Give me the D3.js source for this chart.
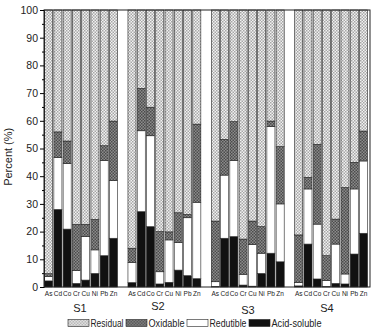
<!DOCTYPE html>
<html>
<head>
<meta charset="utf-8">
<script src="https://cdn.jsdelivr.net/npm/d3@7"></script>
<style>
  body { margin: 0; background: #fff; }
  svg { display: block; font-family: "Liberation Sans", Arial, sans-serif; }
</style>
</head>
<body>
<svg id="chart" width="375" height="336"></svg>
<script>
// sites and metals
var sites = ["S1", "S2", "S3", "S4"];
var metals = ["As", "Cd", "Co", "Cr", "Cu", "Ni", "Pb", "Zn"];
var fractions = ["Acid-soluble", "Redutible", "Oxidable", "Residual"];

// percent of each fraction, 8 metals per site (S1..S4 in order)
var acidSoluble = [
  2.2, 28.0, 20.9, 1.3, 2.5, 4.9, 11.3, 17.6,
  1.6, 27.2, 21.8, 1.1, 1.7, 6.1, 4.1, 3.0,
  0.2, 17.6, 18.2, 0.7, 0.3, 4.9, 12.2, 9.1,
  0.4, 15.5, 2.9, 0.2, 1.3, 1.1, 11.9, 19.4
];
var redutible = [
  1.6, 18.7, 23.7, 4.6, 15.7, 8.5, 34.3, 20.8,
  7.3, 29.2, 32.8, 4.4, 15.3, 9.9, 20.9, 27.6,
  1.7, 22.8, 27.4, 3.9, 15.1, 7.3, 45.7, 20.9,
  1.2, 19.9, 19.8, 2.1, 14.2, 3.6, 23.5, 26.1
];
var oxidable = [
  1.0, 9.3, 8.1, 16.7, 4.4, 11.0, 5.4, 21.5,
  5.1, 15.3, 10.3, 14.5, 2.9, 10.8, 1.2, 28.2,
  21.9, 12.9, 14.1, 12.7, 8.4, 9.6, 2.0, 20.7,
  17.2, 4.2, 28.8, 9.0, 9.0, 31.2, 9.6, 10.8
];
var residual = [
  95.2, 44.0, 47.3, 77.4, 77.4, 75.6, 49.0, 40.1,
  86.0, 28.3, 35.1, 80.0, 80.1, 73.2, 73.8, 41.2,
  76.2, 46.7, 40.3, 82.7, 76.2, 78.2, 40.1, 49.3,
  81.2, 60.4, 48.5, 88.7, 75.5, 64.1, 55.0, 43.7
];
var yTicks = [0, 10, 20, 30, 40, 50, 60, 70, 80, 90, 100];

var rows = [];
sites.forEach(function (s, g) {
  metals.forEach(function (m, i) {
    var k = g * metals.length + i;
    rows.push({
      key: s + m, site: s, metal: m, slot: g * 9 + i,
      "Acid-soluble": acidSoluble[k],
      "Redutible": redutible[k],
      "Oxidable": oxidable[k],
      "Residual": residual[k]
    });
  });
});

var svg = d3.select("#chart");
var margin = { left: 44, right: 5, top: 10, bottom: 49 };
var W = 375, H = 336;

// patterns for the hatched fills
var defs = svg.append("defs");
function checker(id, c1, c2) {
  var p = defs.append("pattern").attr("id", id)
    .attr("width", 3).attr("height", 3)
    .attr("patternUnits", "userSpaceOnUse");
  p.append("rect").attr("width", 3).attr("height", 3).attr("fill", c1);
  p.append("rect").attr("x", 0).attr("y", 0).attr("width", 1.5).attr("height", 1.5).attr("fill", c2);
  p.append("rect").attr("x", 1.5).attr("y", 1.5).attr("width", 1.5).attr("height", 1.5).attr("fill", c2);
}
checker("pRes", "#f2f2f2", "#a6a6a6");
checker("pOxi", "#8c8c8c", "#4c4c4c");

var fills = {
  "Residual": "url(#pRes)",
  "Oxidable": "url(#pOxi)",
  "Redutible": "#ffffff",
  "Acid-soluble": "#111111"
};

var x = d3.scaleLinear().domain([0, 35.2]).range([margin.left, W - margin.right]);
var slotW = x(1) - x(0);
var y = d3.scaleLinear().domain([0, 100]).range([H - margin.bottom, margin.top]);

var stack = d3.stack().keys(fractions);
var layers = stack(rows);

svg.append("g").selectAll("g")
  .data(layers)
  .join("g")
  .attr("fill", function (d) { return fills[d.key]; })
  .selectAll("rect")
  .data(function (d) { return d; })
  .join("rect")
  .attr("x", function (d) { return x(d.data.slot) + 0.6; })
  .attr("width", slotW - 1.2)
  .attr("y", function (d) { return y(d[1]); })
  .attr("height", function (d) { return y(d[0]) - y(d[1]); })
  .attr("stroke", "#222")
  .attr("stroke-width", 0.6);

// frame
svg.append("rect")
  .attr("x", margin.left).attr("y", margin.top)
  .attr("width", W - margin.right - margin.left)
  .attr("height", y(0) - y(100))
  .attr("fill", "none").attr("stroke", "#222").attr("stroke-width", 1);

// y axis with minor ticks
var yAxis = d3.axisLeft(y).tickValues(yTicks).tickSize(4).tickPadding(2);
var gy = svg.append("g").attr("transform", "translate(" + margin.left + ",0)").call(yAxis);
gy.select(".domain").attr("stroke", "#222");
gy.selectAll("text").attr("font-size", 10.5).attr("fill", "#222")
  .attr("font-family", "Liberation Sans, Arial, sans-serif");
var minor = d3.axisLeft(y).tickValues(d3.range(5, 100, 10)).tickSize(2).tickFormat("");
svg.append("g").attr("transform", "translate(" + margin.left + ",0)").call(minor)
  .select(".domain").remove();

svg.append("text")
  .attr("transform", "translate(12," + y(47) + ") rotate(-90)")
  .attr("text-anchor", "middle")
  .attr("font-size", 11)
  .attr("fill", "#222")
  .text("Percent (%)");

// metal labels under each bar
svg.append("g").selectAll("text")
  .data(rows)
  .join("text")
  .attr("x", function (d) { return x(d.slot + 0.5); })
  .attr("y", y(0) + 9)
  .attr("text-anchor", "middle")
  .attr("font-size", 6.5)
  .attr("fill", "#222")
  .text(function (d) { return d.metal; });

// site labels
var siteX = [80, 158, 248, 327];
var siteY = [312, 310, 314, 312];
svg.append("g").selectAll("text")
  .data(sites)
  .join("text")
  .attr("x", function (d, i) { return siteX[i]; })
  .attr("y", function (d, i) { return siteY[i]; })
  .attr("text-anchor", "middle")
  .attr("font-size", 11)
  .attr("fill", "#222")
  .text(function (d) { return d; });

// legend
var legendOrder = ["Residual", "Oxidable", "Redutible", "Acid-soluble"];
var legendX = [68, 126, 187, 249];
var legendW = [33, 36, 37, 50];
var lg = svg.append("g").selectAll("g")
  .data(legendOrder)
  .join("g")
  .attr("transform", function (d, i) { return "translate(" + legendX[i] + ",319.5)"; });
lg.append("rect")
  .attr("width", 21).attr("height", 7)
  .attr("fill", function (d) { return fills[d]; })
  .attr("stroke", "#222").attr("stroke-width", 0.6);
lg.append("text")
  .attr("x", 22.5).attr("y", 7.5)
  .attr("font-size", 10)
  .attr("fill", "#222")
  .attr("textLength", function (d, i) { return legendW[i]; })
  .attr("lengthAdjust", "spacingAndGlyphs")
  .text(function (d) { return d; });
</script>
</body>
</html>
